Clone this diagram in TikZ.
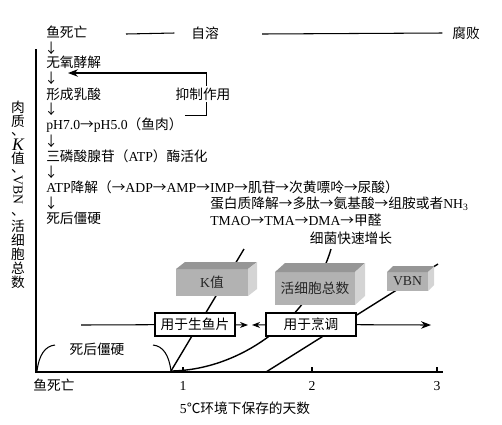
\documentclass[tikz,border=0pt]{standalone}
\usepackage{fontspec}
\setmainfont{Liberation Serif}
\newfontfamily\zh{Noto Sans CJK SC}
\usetikzlibrary{arrows.meta,positioning}
\definecolor{blkfront}{RGB}{178,178,178}
\definecolor{blktop}{RGB}{150,150,150}
\definecolor{blkside}{RGB}{212,212,212}
\newcommand\ra{{\zh →}}
\newcommand\da{{\zh ↓}}
% top and right faces of a gray block
\newcommand\blockfaces[3]{%
  \fill[blktop] (#1.north west) -- ++(#2,#3) -- ([shift={(#2,#3)}]#1.north east) -- (#1.north east) -- cycle;
  \fill[blkside] (#1.north east) -- ([shift={(#2,#3)}]#1.north east) -- ([shift={(#2,#3)}]#1.south east) -- (#1.south east) -- cycle;}

\begin{document}
\begin{tikzpicture}[x=0.02cm,y=-0.02cm,line width=0.6pt,
  font=\fontsize{7.8}{9.4}\selectfont,
  txt/.style={anchor=west,inner sep=1pt},
  tag/.style={draw,fill=white,minimum height=0.46cm,inner sep=1pt,outer sep=0pt},
  blk/.style={fill=blkfront,inner sep=1pt,outer sep=0pt,text=black!85},
  curve/.style={line width=0.8pt},
  arr/.style={-{Stealth[length=2mm]}}]
\useasboundingbox (0,0) rectangle (502,424);

% axes
\draw[line width=0.8pt] (36,49) -- (36,372) -- (443,372);
\foreach \x in {183,312,437} \draw (\x,372) -- (\x,367);
\node (o) at (54,385) {\zh 鱼死亡};
\node (d1) at (183,386) {1};
\node (d2) at (312,386) {2};
\node (d3) at (437,386) {3};
\node (xlab) at (245,408) {5{\zh ℃环境下保存的天数}};
% vertical axis label, one character at a time
\foreach \c/\y [count=\i] in {肉/107,质/121,值/158,活/226,细/240,胞/254,总/268,数/282}
  \node[font=\zh\fontsize{7.8}{9}\selectfont,inner sep=0pt] (yl\i) at (18,\y) {\c};
\foreach \y [count=\i] in {135,172,215}
  \node[font=\zh\fontsize{7.8}{9}\selectfont,inner sep=0pt] (dun\i) at (18,\y) {\smash{、}};
\node[font=\itshape,inner sep=0pt] (ylk) at (18,145) {K};
\node[rotate=-90,inner sep=0pt] (ylv) at (18,190) {VBN};

% time line
\node[txt] (siwang) at (44,32) {\zh 鱼死亡};
\node (zirong) at (205,33) {\zh 自溶};
\node (fubai) at (466,33) {\zh 腐败};
\coordinate (z0) at (126,34);
\coordinate (z1) at (262,34);
\draw (z0) -- ([xshift=-6pt]zirong.west);
\draw (z1) -- ([xshift=-2pt]fubai.west);

% steps after death
\node[txt] (a1) at (42,48) {\da};
\node[txt] (wy) at (44,62) {\zh 无氧酵解};
\node[txt] (a2) at (42,78) {\da};
\node[txt] (rs) at (44,94) {\zh 形成乳酸};
\node[txt] (a3) at (42,109) {\da};
\node[txt] (ph) at (44,125) {pH7.0\ra pH5.0{\zh （鱼肉）}};
\node[txt] (a4) at (42,141) {\da};
\node[txt] (atp) at (44,156) {{\zh 三磷酸腺苷（}ATP{\zh ）酶活化}};
\node[txt] (a5) at (42,172) {\da};
\node[txt] (jj) at (44,187) {ATP{\zh 降解（}\ra ADP\ra AMP\ra IMP\ra{\zh 肌苷}\ra{\zh 次黄嘌呤}\ra{\zh 尿酸）}};
\node[txt] (a6) at (42,203) {\da};
\node[txt] (jy1) at (44,218) {\zh 死后僵硬};
\node[txt] (dbz) at (208,204) {{\zh 蛋白质降解}\ra{\zh 多肽}\ra{\zh 氨基酸}\ra{\zh 组胺或者}NH\textsubscript{3}};
\node[txt] (tmao) at (208,220) {TMAO\ra TMA\ra DMA\ra{\zh 甲醛}};
\node (xj) at (351,238) {\zh 细菌快速增长};

% inhibition
\coordinate (fb) at (68,73);
\draw[arr] (ph.north east) -- ++(22,0) |- (fb);
\node[fill=white,inner sep=1pt] (yz) at (203,94) {\zh 抑制作用};

% curves
\draw[curve] (171,371) -- (244,249);
\draw[curve] (171,371) .. controls (240,370) and (310,320) .. (331,249);
\draw[curve] (266,372) -- (438,264);
\draw (37,371) .. controls (39,355) and (45,346) .. (55,345);
\draw (153,345) .. controls (163,346) and (169,355) .. (171,371);
\node (jy2) at (97,349) {\zh 死后僵硬};

% blocks
\node[blk,minimum width=1.44cm,minimum height=0.54cm] (kz) at (212,282.5) {K{\zh 值}};
\blockfaces{kz}{9}{-7}
\node[blk,minimum width=1.6cm,minimum height=0.66cm] (hx) at (315,288.5) {\zh 活细胞总数};
\blockfaces{hx}{10}{-9}
\node[blk,minimum width=0.82cm,minimum height=0.38cm] (vbn) at (407.5,281.5) {VBN};
\blockfaces{vbn}{6}{-6}

% use
\node[tag,minimum width=1.6cm] (sheng) at (195,324.5) {\zh 用于生鱼片};
\node[tag,minimum width=1.8cm] (peng) at (311,324.5) {\zh 用于烹调};
\coordinate (h0) at (81,325);
\coordinate (hm1) at (248,325);
\coordinate (hm2) at (252,325);
\coordinate (h1) at (431,325);
\draw (h0) -- (sheng);
\draw[-{Stealth[length=1.6mm]}] (sheng) -- (hm1);
\draw[-{Stealth[length=1.6mm]}] (peng) -- (hm2);
\draw[arr] (peng) -- (h1);
\end{tikzpicture}
\end{document}
